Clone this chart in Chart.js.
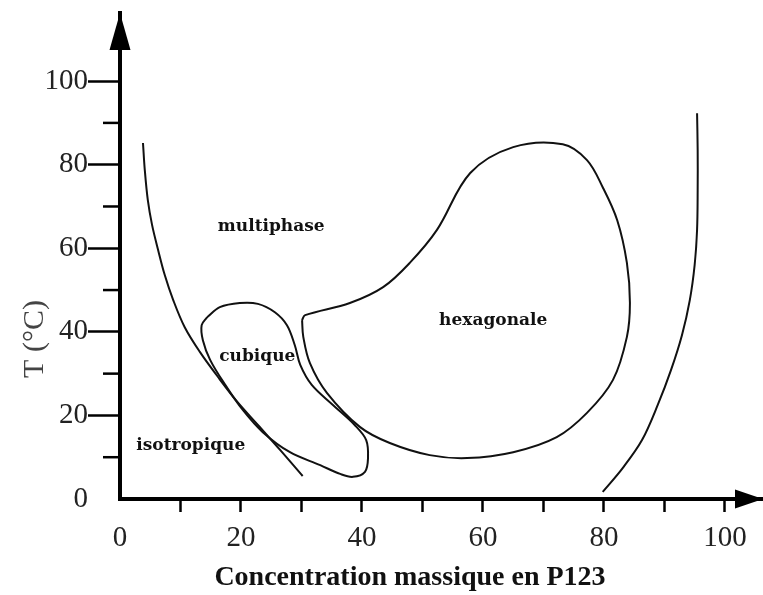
<!DOCTYPE html>
<html>
<head>
<meta charset="utf-8">
<script src="https://cdn.jsdelivr.net/npm/chart.js@4.4.1/dist/chart.umd.min.js"></script>
<style>
  html, body { margin: 0; padding: 0; background: #fff; }
  canvas { display: block; }
</style>
</head>
<body>
<canvas id="phaseChart" width="763" height="595"></canvas>
<script>
// frontière gauche (isotrope / multiphase)
const leftX = [3.8, 4.1, 4.6, 5.3, 6.3, 7.4, 8.8, 10.7, 13.2, 16.2, 19.3, 22.8, 26.5, 30.2];
const leftY = [85.2, 78.7, 71.5, 65.6, 59.6, 53.6, 47.6, 41.1, 35.2, 29.2, 23.4, 17.7, 11.7, 5.5];

// domaine cubique (boucle fermée)
const cubX = [14.4, 16.5, 19.8, 22.8, 25.6, 27.6, 28.9, 29.8, 31.7, 35.2, 38.8, 40.7, 41.0, 40.5, 38.5, 36.4, 33.1, 28.1, 23.6, 20.3, 17.4, 14.9, 13.7, 13.5, 14.4];
const cubY = [43.5, 45.9, 46.9, 46.7, 44.7, 41.6, 36.8, 32.1, 27.3, 22.5, 17.7, 14.1, 9.8, 6.5, 5.3, 6.0, 8.1, 11.2, 16.0, 21.3, 27.3, 33.3, 38.0, 41.6, 43.5];

// domaine hexagonal (boucle fermée)
const hexX = [30.1, 30.6, 38.0, 43.5, 47.9, 52.4, 57.9, 65.0, 73.2, 77.2, 79.8, 82.2, 83.8, 84.3, 83.8, 81.5, 77.2, 72.2, 65.0, 57.4, 51.2, 44.6, 39.7, 34.2, 31.4, 30.3, 30.1];
const hexY = [42.8, 44.0, 46.9, 50.7, 56.5, 64.4, 78.0, 84.2, 84.9, 81.1, 74.6, 66.7, 56.5, 46.9, 38.8, 28.5, 20.6, 14.8, 11.2, 9.8, 10.5, 13.4, 17.2, 25.4, 32.5, 38.8, 42.8];

// frontière droite
const rightX = [95.4, 95.5, 95.5, 95.4, 95.0, 94.2, 92.9, 91.1, 88.9, 86.3, 83.1, 79.8];
const rightY = [92.3, 83.5, 73.9, 64.4, 56.0, 47.6, 39.2, 30.9, 22.5, 14.1, 7.4, 1.7];

// noms des domaines
const regionNames = ['multiphase', 'cubique', 'hexagonale', 'isotropique'];
const regionX = [25.0, 22.7, 61.7, 11.7];
const regionY = [65.3, 34.0, 42.8, 12.7];

// graduations
const xTicks = [0, 10, 20, 30, 40, 50, 60, 70, 80, 90, 100];
const yTicks = [0, 20, 40, 60, 80, 100];
const yMinor = [10, 30, 50, 70, 90];

const xTitle = 'Concentration massique en P123';
const yTitle = 'T (°C)';

const toPoints = (xs, ys) => xs.map((x, i) => ({ x: x, y: ys[i] }));

const curve = (xs, ys) => ({
  data: toPoints(xs, ys),
  borderColor: '#111',
  borderWidth: 2,
  pointRadius: 0,
  tension: 0.35,
  fill: false
});

const decor = {
  id: 'decor',
  afterDraw(chart) {
    const { ctx, chartArea: a, scales: { x, y } } = chart;
    ctx.save();
    ctx.fillStyle = '#000';
    ctx.strokeStyle = '#000';

    // petites graduations en T
    ctx.lineWidth = 2.5;
    yMinor.forEach(v => {
      const py = y.getPixelForValue(v);
      ctx.beginPath();
      ctx.moveTo(a.left - 17, py);
      ctx.lineTo(a.left, py);
      ctx.stroke();
    });

    // flèches des axes
    const yTop = y.getPixelForValue(y.max);
    ctx.beginPath();
    ctx.moveTo(a.left, yTop);
    ctx.lineTo(a.left - 10.5, yTop + 37);
    ctx.lineTo(a.left + 10.5, yTop + 37);
    ctx.closePath();
    ctx.fill();

    const xEnd = x.getPixelForValue(x.max);
    ctx.beginPath();
    ctx.moveTo(xEnd, a.bottom);
    ctx.lineTo(xEnd - 28, a.bottom - 9.5);
    ctx.lineTo(xEnd - 28, a.bottom + 9.5);
    ctx.closePath();
    ctx.fill();

    // noms des domaines
    ctx.font = 'bold 17px "DejaVu Serif"';
    ctx.textAlign = 'center';
    ctx.textBaseline = 'middle';
    ctx.fillStyle = '#111';
    regionNames.forEach((n, i) => {
      ctx.fillText(n, x.getPixelForValue(regionX[i]), y.getPixelForValue(regionY[i]));
    });

    // titres des axes
    ctx.font = 'bold 28px "Liberation Serif"';
    ctx.fillText(xTitle, 410, 578);

    ctx.translate(35, 339);
    ctx.rotate(-Math.PI / 2);
    ctx.font = '30px "Liberation Serif"';
    ctx.fillStyle = '#444';
    ctx.fillText(yTitle, 0, 0);
    ctx.restore();
  }
};

const tickFont = { family: 'Liberation Serif', size: 29 };

new Chart(document.getElementById('phaseChart'), {
  type: 'line',
  data: {
    datasets: [curve(leftX, leftY), curve(cubX, cubY), curve(hexX, hexY), curve(rightX, rightY)]
  },
  options: {
    responsive: false,
    animation: false,
    layout: { padding: { top: 13, left: 0, right: 0, bottom: 0 } },
    plugins: { legend: { display: false }, tooltip: { enabled: false } },
    scales: {
      x: {
        type: 'linear',
        min: 0,
        max: 106.3,
        afterBuildTicks: s => { s.ticks = xTicks.map(v => ({ value: v })); },
        afterFit: s => { s.height = 96; s.paddingLeft = 0; s.paddingRight = 0; },
        grid: {
          drawOnChartArea: false,
          tickLength: 13,
          tickWidth: 2.5,
          tickColor: c => (c.tick && c.tick.value === 0) ? 'rgba(0,0,0,0)' : '#000'
        },
        border: { display: true, color: '#000', width: 4 },
        ticks: {
          autoSkip: false,
          maxRotation: 0,
          padding: 9,
          color: '#222',
          font: tickFont,
          callback: v => (v % 20 === 0 ? String(v) : '')
        }
      },
      y: {
        type: 'linear',
        min: 0,
        max: 116.3,
        afterBuildTicks: s => { s.ticks = yTicks.map(v => ({ value: v })); },
        afterFit: s => { s.width = 120; s.paddingTop = 0; s.paddingBottom = 0; },
        grid: {
          drawOnChartArea: false,
          tickLength: 32,
          tickWidth: 2.5,
          tickColor: c => (c.tick && c.tick.value === 0) ? 'rgba(0,0,0,0)' : '#000'
        },
        border: { display: true, color: '#000', width: 4 },
        ticks: {
          autoSkip: false,
          padding: 0,
          color: '#222',
          font: tickFont
        }
      }
    }
  },
  plugins: [decor]
});
</script>
</body>
</html>
